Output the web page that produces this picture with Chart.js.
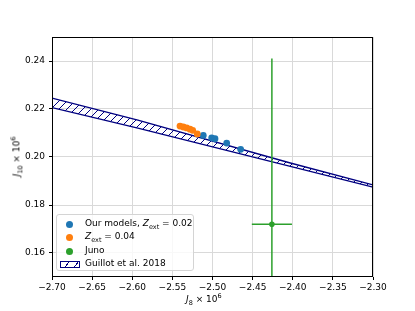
<!DOCTYPE html>
<html>
<head>
<meta charset="utf-8">
<script src="https://cdn.jsdelivr.net/npm/chart.js@4/dist/chart.umd.min.js"></script>
<style>
  html, body { margin: 0; padding: 0; background: #fff; }
  #wrap { position: relative; width: 415px; height: 311px; font-family: "DejaVu Sans", sans-serif; color: #000; }
  canvas { position: absolute; left: 0; top: 0; }
  .lbl { position: absolute; font-size: 9px; white-space: nowrap; line-height: 1; }
  .lbl sub, .lbl sup { font-size: 6.5px; line-height: 0; }
  #legend { position: absolute; left: 56px; top: 214px; width: 138px; height: 57px; box-sizing: border-box;
            border: 1px solid #d4d4d4; border-radius: 3px; background: rgba(255,255,255,0.8); }
  .row { position: absolute; left: 0; height: 12px; width: 100%; }
  .mk { position: absolute; left: 9px; top: 2.5px; width: 7px; height: 7px; border-radius: 50%; }
  .txt { position: absolute; left: 28px; top: 1px; font-size: 9px; white-space: nowrap; line-height: 1; }
  .txt sub { font-size: 6.5px; line-height: 0; }
  .patch { position: absolute; left: 3px; top: 3px; width: 18px; height: 5px; border: 1.2px solid #000080;
           background: repeating-linear-gradient(-55deg, transparent 0 3.2px, #000080 3.2px 4.3px, transparent 4.3px 7.5px); }
</style>
</head>
<body>
<div id="wrap">
  <canvas id="c" width="415" height="311"></canvas>
  <div class="lbl" id="xt" style="left:186px; top:295px;"><i>J</i><sub>8</sub> × 10<sup>6</sup></div>
  <div class="lbl" id="yt" style="left:-3px; top:152px; transform: rotate(-90deg); transform-origin: 50% 50%;"><i>J</i><sub>10</sub> × 10<sup>6</sup></div>
  <div id="legend"></div>
</div>
<script>
// ---- data ----
const xTicks = [-2.70, -2.65, -2.60, -2.55, -2.50, -2.45, -2.40, -2.35, -2.30];
const yTicks = [0.16, 0.18, 0.20, 0.22, 0.24];

const modelsJ8  = [-2.5115, -2.5010, -2.4969, -2.4823, -2.4649];
const modelsJ10 = [0.2090, 0.2080, 0.2076, 0.2058, 0.2032];

const z04J8  = [-2.5405, -2.5364, -2.5322, -2.5280, -2.5247, -2.5190];
const z04J10 = [0.2129, 0.2125, 0.2121, 0.2116, 0.2111, 0.2096];

const junoJ8 = -2.426, junoJ8Err = 0.025;
const junoJ10 = 0.172, junoJ10Err = 0.069;

const bandJ8    = [-2.70, -2.593, -2.403, -2.30];
const bandUpper = [0.2245, 0.2154, 0.1975, 0.1884];
const bandLower = [0.2206, 0.2120, 0.1961, 0.1874];

// ---- styles ----
const C_BLUE = '#1f77b4', C_ORANGE = '#ff7f0e', C_GREEN = '#2ca02c', C_NAVY = '#000080';

function hatch() {
  const p = document.createElement('canvas');
  p.width = 8; p.height = 8;
  const g = p.getContext('2d');
  g.strokeStyle = C_NAVY; g.lineWidth = 1;
  g.beginPath();
  g.moveTo(-1, 9); g.lineTo(9, -1);
  g.moveTo(-1, 1); g.lineTo(1, -1);
  g.moveTo(7, 9); g.lineTo(9, 7);
  g.stroke();
  return document.getElementById('c').getContext('2d').createPattern(p, 'repeat');
}

const pts = (xs, ys) => xs.map((x, i) => ({x: x, y: ys[i]}));

const frame = {
  id: 'frame',
  afterDatasetsDraw(chart) {
    const a = chart.chartArea, ctx = chart.ctx;
    ctx.save();
    ctx.strokeStyle = '#000'; ctx.lineWidth = 1;
    ctx.strokeRect(Math.round(a.left) + 0.5, Math.round(a.top) + 0.5,
                   Math.round(a.right - a.left) - 1, Math.round(a.bottom - a.top) - 1);
    ctx.restore();
  }
};

const fmt = v => (v < 0 ? '\u2212' : '') + Math.abs(v).toFixed(2);

new Chart(document.getElementById('c'), {
  type: 'scatter',
  data: {
    datasets: [
      { label: 'Guillot upper', data: pts(bandJ8, bandUpper), showLine: true, pointRadius: 0,
        borderColor: C_NAVY, borderWidth: 1.3, fill: '+1', backgroundColor: hatch(), order: 10 },
      { label: 'Guillot lower', data: pts(bandJ8, bandLower), showLine: true, pointRadius: 0,
        borderColor: C_NAVY, borderWidth: 1.3, fill: false, order: 9 },
      { label: 'Juno yerr', data: [{x: junoJ8, y: junoJ10 - junoJ10Err}, {x: junoJ8, y: junoJ10 + junoJ10Err}],
        showLine: true, pointRadius: 0, borderColor: C_GREEN, borderWidth: 1.5, order: 6 },
      { label: 'Juno xerr', data: [{x: junoJ8 - junoJ8Err, y: junoJ10}, {x: junoJ8 + junoJ8Err, y: junoJ10}],
        showLine: true, pointRadius: 0, borderColor: C_GREEN, borderWidth: 1.5, order: 5 },
      { label: 'Juno', data: [{x: junoJ8, y: junoJ10}], pointRadius: 2.8, pointBackgroundColor: C_GREEN,
        pointBorderWidth: 0, order: 4 },
      { label: 'Our models', data: pts(modelsJ8, modelsJ10), pointRadius: 3.4,
        pointBackgroundColor: C_BLUE, pointBorderWidth: 0, order: 3 },
      { label: 'Zext 0.04', data: pts(z04J8, z04J10), pointRadius: 3.4,
        pointBackgroundColor: C_ORANGE, pointBorderWidth: 0, order: 2 }
    ]
  },
  options: {
    responsive: false,
    animation: false,
    devicePixelRatio: 1,
    layout: { padding: { left: 0, top: 37, right: 42, bottom: 0 } },
    plugins: { legend: { display: false }, tooltip: { enabled: false } },
    scales: {
      x: {
        type: 'linear', min: -2.70, max: -2.30,
        afterBuildTicks: s => { s.ticks = xTicks.map(v => ({value: v})); },
        afterFit: s => { s.height = 34; },
        grid: { color: '#d9d9d9', lineWidth: 1, tickLength: 3, tickColor: '#000', drawTicks: true },
        border: { display: false },
        ticks: { color: '#000', font: { family: 'DejaVu Sans', size: 9 }, padding: 2,
                 maxRotation: 0, autoSkip: false, callback: v => fmt(v) }
      },
      y: {
        type: 'linear', min: 0.15, max: 0.25,
        afterBuildTicks: s => { s.ticks = yTicks.map(v => ({value: v})); },
        afterFit: s => { s.width = 52; },
        grid: { color: '#d9d9d9', lineWidth: 1, tickLength: 3, tickColor: '#000', drawTicks: true },
        border: { display: false },
        ticks: { color: '#000', font: { family: 'DejaVu Sans', size: 9 }, padding: 4,
                 autoSkip: false, callback: v => fmt(v) }
      }
    }
  },
  plugins: [frame]
});

// ---- HTML legend (for sub/superscripts) ----
const legendItems = [
  { kind: 'dot', color: C_BLUE,   html: 'Our models, <i>Z</i><sub>ext</sub> = 0.02' },
  { kind: 'dot', color: C_ORANGE, html: '<i>Z</i><sub>ext</sub> = 0.04' },
  { kind: 'dot', color: C_GREEN,  html: 'Juno' },
  { kind: 'patch', html: 'Guillot et al. 2018' }
];
const lg = document.getElementById('legend');
const rowTops = [3, 16, 30, 43];
legendItems.forEach((it, i) => {
  const r = document.createElement('div');
  r.className = 'row';
  r.style.top = rowTops[i] + 'px';
  const m = document.createElement('div');
  if (it.kind === 'dot') { m.className = 'mk'; m.style.background = it.color; }
  else { m.className = 'patch'; }
  const t = document.createElement('div');
  t.className = 'txt';
  t.innerHTML = it.html;
  r.appendChild(m); r.appendChild(t);
  lg.appendChild(r);
});
</script>
</body>
</html>
